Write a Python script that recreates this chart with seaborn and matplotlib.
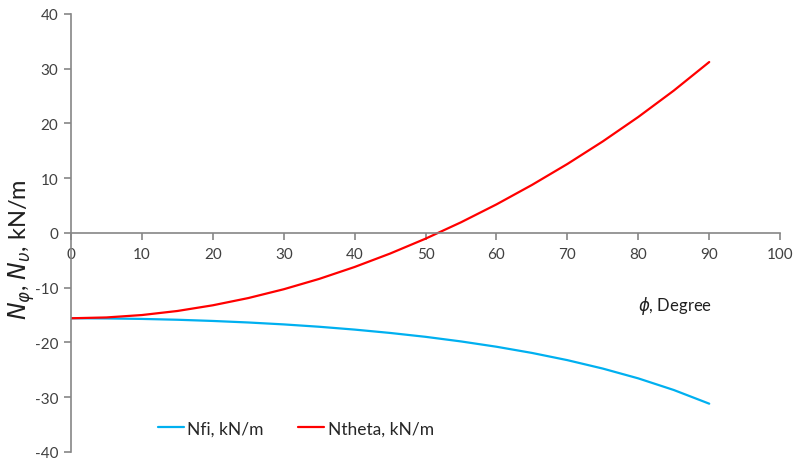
import numpy as np
import pandas as pd
import seaborn as sns
import matplotlib.pyplot as plt

# values, every 5 degrees
phi = [0, 5, 10, 15, 20, 25, 30, 35, 40, 45, 50, 55, 60, 65, 70, 75, 80, 85, 90]
n_fi = [-15.60, -15.63, -15.72, -15.87, -16.09, -16.37, -16.72, -17.15, -17.67, -18.28,
        -18.99, -19.83, -20.80, -21.93, -23.25, -24.79, -26.58, -28.70, -31.20]
n_theta = [-15.60, -15.45, -15.01, -14.27, -13.23, -11.91, -10.30, -8.41, -6.23, -3.78,
           -1.06, 1.93, 5.20, 8.75, 12.58, 16.71, 21.17, 25.98, 31.20]
series_names = ['Nfi, kN/m', 'Ntheta, kN/m']
x_ticks = list(range(0, 101, 10))
y_ticks = list(range(-40, 41, 10))

df = pd.concat([
    pd.DataFrame({'phi': phi, 'N': n_fi, 'series': series_names[0]}),
    pd.DataFrame({'phi': phi, 'N': n_theta, 'series': series_names[1]}),
])

sns.set_style('white', {'xtick.bottom': True, 'ytick.left': True})
plt.rcParams['font.family'] = ['Lato', 'DejaVu Sans']
plt.rcParams['axes.unicode_minus'] = False
plt.rcParams['xtick.major.size'] = 5
plt.rcParams['ytick.major.size'] = 5

fig = plt.figure(figsize=(7.95, 4.64), dpi=100)
ax = fig.add_axes([0.0893, 0.024, 0.892, 0.944])

sns.lineplot(data=df, x='phi', y='N', hue='series',
             palette={series_names[0]: '#00B0F0', series_names[1]: '#FF0000'},
             linewidth=1.6, ax=ax)

ax.set_xlim(0, 100)
ax.set_ylim(-40, 40)
ax.set_xticks(x_ticks)
ax.set_yticks(y_ticks)

grey = '#868686'
for s in ['top', 'right']:
    ax.spines[s].set_visible(False)
ax.spines['bottom'].set_position(('data', 0))
ax.spines['left'].set_color(grey)
ax.spines['bottom'].set_color(grey)
ax.spines['left'].set_linewidth(1.2)
ax.spines['bottom'].set_linewidth(1.2)
ax.tick_params(axis='both', which='major', direction='out', length=5, width=1.2,
               color=grey, left=True, bottom=True, labelsize=11,
               labelcolor='#404040', pad=4)
ax.tick_params(axis='x', pad=5)

ax.set_xlabel('')
ax.set_ylabel(r'$N_\varphi$, $N_\upsilon$, kN/m', fontsize=17, color='#202020')
ax.yaxis.set_label_coords(-0.048, 0.463)
ax.text(0.8, 0.335, r'$\phi$, Degree', transform=ax.transAxes, fontsize=12,
        color='#202020', ha='left', va='center')

leg = ax.legend(loc='lower left', bbox_to_anchor=(0.1, 0.0), ncol=2, frameon=False,
                fontsize=12.5, handlelength=1.5, handletextpad=0.2, columnspacing=2.0)
leg.set_title(None)

fig.savefig('out.png', dpi=100)
